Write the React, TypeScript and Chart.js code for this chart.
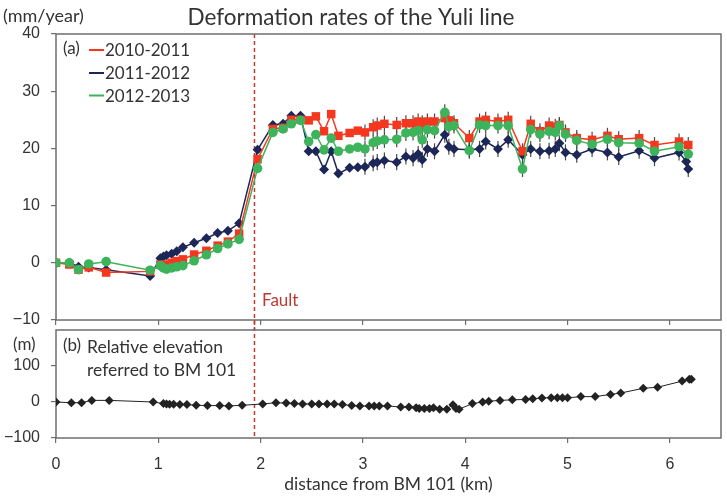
import React, { useEffect, useRef } from 'react';
import { Chart, registerables } from 'chart.js';

Chart.register(...registerables);

// Leveling benchmarks along the Yuli line (km from BM 101)
const STATION_KM = [
  0, 0.13, 0.22, 0.32, 0.49, 0.92, 1.02, 1.05, 1.08, 1.13, 1.18, 1.24, 1.35, 1.47, 1.58, 1.68, 1.79,
  1.97, 2.12, 2.22, 2.3, 2.39, 2.47, 2.54, 2.62, 2.69, 2.76, 2.87, 2.95, 3.02, 3.1, 3.14, 3.21, 3.33,
  3.42, 3.49, 3.54, 3.58, 3.63, 3.7, 3.8, 3.84, 3.89, 4.04, 4.14, 4.2, 4.32, 4.42, 4.56, 4.64, 4.73,
  4.82, 4.88, 4.92, 4.98, 5.09, 5.24, 5.39, 5.5, 5.7, 5.85, 6.09, 6.16, 6.18,
];

// Vertical deformation rates (mm/year)
const RATE_2010_2011 = [
  0, -0.3, -1.2, -0.8, -1.7, -1.5, -0.3, -0.6, -0.3, 0.0, 0.3, 0.6, 1.45, 2.1, 3.0, 3.7, 5.1,
  18.1, 23.4, 23.6, 25.0, 25.0, 24.9, 25.6, 23.0, 26.0, 22.2, 22.7, 23.1, 22.8, 23.7, 24.0, 24.3, 24.1,
  24.4, 24.4, 24.7, 24.4, 24.7, 24.7, 25.3, 24.9, 24.4, 21.8, 24.7, 25.0, 24.7, 25.0, 19.5, 24.3, 23.0,
  24.0, 23.8, 24.1, 22.8, 21.8, 21.5, 22.2, 21.6, 21.8, 20.6, 21.2, null, 20.6,
];
const RATE_2011_2012 = [
  0, 0, -0.7, -0.8, -1.2, -2.3, 0.8, 1.1, 1.3, 1.6, 2.0, 2.7, 3.5, 4.3, 5.2, 5.6, 6.9,
  19.75, 24.1, 24.3, 25.7, 25.7, 19.5, 19.5, 16.3, 19.5, 15.6, 16.6, 16.7, 16.8, 17.4, 17.6, 17.9, 17.6,
  18.6, 18.3, 19.0, 18.0, 19.9, 19.5, 22.4, 20.3, 19.9, 19.75, 19.9, 21.2, 19.9, 21.5, 18.9, 19.9, 19.5,
  19.6, 19.9, 20.9, 19.3, 18.9, 19.9, 19.3, 18.5, 19.6, 18.3, 19.3, 17.7, 16.4,
];
const RATE_2012_2013 = [
  0, 0, -1.2, -0.2, 0.2, -1.3, -0.5, -0.9, -1.1, -0.9, -0.7, -0.5, 0.35, 1.4, 2.5, 3.3, 4.1,
  16.5, 22.8, 23.4, 24.3, 24.9, 21.2, 22.4, 19.75, 21.8, 19.5, 19.9, 20.2, 19.9, 21.0, 21.3, 21.5, 21.6,
  22.7, 22.8, 23.1, 21.5, 23.3, 23.1, 26.3, 23.8, 24.0, 19.6, 24.1, 24.0, 24.0, 24.0, 16.4, 23.3, 22.5,
  23.0, 22.8, 24.0, 22.5, 21.4, 20.7, 21.6, 21.0, 20.9, 19.5, 20.3, null, 19.0,
];
const SERIES_LABELS = ['2010-2011', '2011-2012', '2012-2013'];

// Relative elevation referred to BM 101 (m)
const LEVEL_KM = [
  0, 0.15, 0.25, 0.35, 0.52, 0.95, 1.05, 1.08, 1.11, 1.15, 1.21, 1.28, 1.37, 1.48, 1.6, 1.69, 1.82,
  2.02, 2.15, 2.25, 2.33, 2.41, 2.5, 2.57, 2.65, 2.72, 2.8, 2.89, 2.97, 3.06, 3.11, 3.16, 3.24, 3.37,
  3.45, 3.52, 3.55, 3.6, 3.65, 3.69, 3.75, 3.82, 3.88, 3.91, 3.94, 4.07, 4.17, 4.23, 4.34, 4.46, 4.59,
  4.66, 4.75, 4.84, 4.9, 4.95, 5.0, 5.13, 5.27, 5.42, 5.52, 5.74, 5.88, 6.12, 6.19, 6.21,
];
const ELEVATION_M = [
  0, -2, -2, 4.5, 4.5, 0, -4.5, -5.5, -6, -6, -7, -7, -9, -10, -10, -11, -9,
  -5.5, -2, -3, -4, -5.5, -5.5, -5.5, -5.5, -5.5, -7, -10, -11, -11, -11, -11, -11, -14,
  -14, -16, -18, -18, -18, -16, -20, -20, -7.5, -18, -20, -4.5, 0, 2, 4.5, 6, 7,
  9, 11, 12, 11.5, 11.5, 11.5, 15, 15, 21, 25, 38, 41, 58, 63.5, 63.5,
];

// Axis ranges and annotations
const KM_MIN = 0;
const KM_MAX = 6.5;
const RATE_MIN = -10;
const RATE_MAX = 40;
const RATE_STEP = 10;
const ELEV_MIN = -100;
const ELEV_MAX = 200;
const ELEV_STEP = 100;
const ELEV_LAST_TICK = 100;
const FAULT_KM = 1.94;
const ERROR_FROM_KM = 3.0;
const ERROR_MM = 1.4;

const TITLE = 'Deformation rates of the Yuli line';
const X_TITLE = 'distance from BM 101 (km)';

// Styling
const TEXT_FONT = 'Lato, "Open Sans", sans-serif';
const NUM_FONT = '"Liberation Sans", Arial, sans-serif';
const TEXT_COLOR = '#333333';
const FRAME_COLOR = '#6e6e6e';
const FAULT_COLOR = '#c0392f';
const SERIES_COLORS = ['#f5371f', '#1c2657', '#3db35b'];
const SERIES_STYLES: any[] = ['rect', 'rectRot', 'circle'];
const SERIES_RADII = [6, 5, 4.8];
const SERIES_ORDER = [1, 2, 0];
const ELEV_COLOR = '#222222';
const AXIS_W = 56;

const minusFmt = (v: any) => String(v).replace('-', '\u2212');

// Fixed axis box sizes; label overhang must not push the plot area around
const fixSize = (w: number | null, h: number | null) => (s: any) => {
  if (w != null) s.width = w;
  if (h != null) s.height = h;
  s.paddingTop = 0;
  s.paddingBottom = 0;
  s.paddingLeft = 0;
  s.paddingRight = 0;
};

function frameAndFault(chart: any, faultTop: number, faultBottom: number) {
  const { ctx, chartArea } = chart;
  const { left, top, right, bottom } = chartArea;
  ctx.save();
  const fx = chart.scales.x.getPixelForValue(FAULT_KM);
  ctx.setLineDash([4, 3]);
  ctx.strokeStyle = FAULT_COLOR;
  ctx.lineWidth = 1.5;
  ctx.beginPath();
  ctx.moveTo(fx, faultTop);
  ctx.lineTo(fx, faultBottom);
  ctx.stroke();
  ctx.setLineDash([]);
  ctx.strokeStyle = FRAME_COLOR;
  ctx.lineWidth = 1.5;
  ctx.strokeRect(left, top, right - left, bottom - top);
  ctx.restore();
}

const rateDecor = {
  id: 'rateDecor',
  beforeDatasetsDraw(chart: any) {
    const { ctx } = chart;
    const ys = chart.scales.y;
    const xs = chart.scales.x;
    frameAndFault(chart, chart.chartArea.top, chart.height);
    ctx.save();
    ctx.strokeStyle = '#4a4a4a';
    ctx.lineWidth = 1.2;
    chart.data.datasets.forEach((ds: any) => {
      ds.data.forEach((p: any) => {
        if (p.y == null || p.x < ERROR_FROM_KM) return;
        const px = xs.getPixelForValue(p.x);
        ctx.beginPath();
        ctx.moveTo(px, ys.getPixelForValue(p.y + ERROR_MM));
        ctx.lineTo(px, ys.getPixelForValue(p.y - ERROR_MM));
        ctx.stroke();
      });
    });
    ctx.restore();
  },
  afterDraw(chart: any) {
    const { ctx } = chart;
    ctx.save();
    ctx.textBaseline = 'middle';
    ctx.fillStyle = TEXT_COLOR;
    ctx.font = `22.5px ${TEXT_FONT}`;
    ctx.textAlign = 'center';
    ctx.fillText(TITLE, 351, 18);
    ctx.textAlign = 'left';
    ctx.font = `18px ${TEXT_FONT}`;
    ctx.fillText('(mm/year)', 3, 16);
    ctx.font = `17px ${TEXT_FONT}`;
    ctx.fillText('(a)', 63, 49);
    const rowY = [50, 73, 95.5];
    SERIES_LABELS.forEach((lab, i) => {
      ctx.strokeStyle = SERIES_COLORS[i];
      ctx.lineWidth = 2;
      ctx.beginPath();
      ctx.moveTo(89, rowY[i]);
      ctx.lineTo(104, rowY[i]);
      ctx.stroke();
      ctx.fillStyle = TEXT_COLOR;
      ctx.fillText(lab, 105, rowY[i] + 1);
    });
    ctx.fillStyle = FAULT_COLOR;
    ctx.fillText('Fault', 262, 301);
    ctx.restore();
  },
};

const elevDecor = {
  id: 'elevDecor',
  beforeDatasetsDraw(chart: any) {
    frameAndFault(chart, 0, chart.chartArea.bottom);
  },
  afterDraw(chart: any) {
    const { ctx } = chart;
    ctx.save();
    ctx.textBaseline = 'middle';
    ctx.textAlign = 'left';
    ctx.fillStyle = TEXT_COLOR;
    ctx.font = `17px ${TEXT_FONT}`;
    ctx.fillText('(m)', 13, 25);
    ctx.fillText('(b)', 63, 26);
    ctx.font = `17.5px ${TEXT_FONT}`;
    ctx.fillText('Relative elevation', 87, 27);
    ctx.fillText('referred to BM 101', 87, 50);
    ctx.restore();
  },
};

const pts = (xs: number[], ys: (number | null)[]) => xs.map((x, i) => ({ x, y: ys[i] }));

export default function App() {
  const topRef = useRef<HTMLCanvasElement>(null);
  const botRef = useRef<HTMLCanvasElement>(null);

  useEffect(() => {
    const rateSeries = [RATE_2010_2011, RATE_2011_2012, RATE_2012_2013];
    const top = new Chart(topRef.current!, {
      type: 'line',
      data: {
        datasets: rateSeries.map((ys, i) => ({
          label: SERIES_LABELS[i],
          data: pts(STATION_KM, ys),
          borderColor: SERIES_COLORS[i],
          backgroundColor: SERIES_COLORS[i],
          borderWidth: 1.5,
          pointStyle: SERIES_STYLES[i],
          pointRadius: SERIES_RADII[i],
          pointBorderWidth: 0,
          spanGaps: true,
          tension: 0,
          order: SERIES_ORDER[i],
        })),
      },
      options: {
        animation: false,
        responsive: false,
        devicePixelRatio: 1,
        layout: { padding: { top: 34, right: 6, left: 0, bottom: 0 } },
        plugins: { legend: { display: false }, tooltip: { enabled: false }, title: { display: false } },
        scales: {
          x: {
            type: 'linear',
            min: KM_MIN,
            max: KM_MAX,
            border: { display: false },
            grid: { drawOnChartArea: false, drawTicks: true, tickLength: 5, color: FRAME_COLOR, lineWidth: 1.2 },
            ticks: { stepSize: 1, includeBounds: false, display: false },
            afterFit: fixSize(null, 10),
          },
          y: {
            min: RATE_MIN,
            max: RATE_MAX,
            border: { display: false },
            grid: { drawOnChartArea: false, drawTicks: true, tickLength: 5, color: FRAME_COLOR, lineWidth: 1.2 },
            ticks: { stepSize: RATE_STEP, color: TEXT_COLOR, font: { family: NUM_FONT, size: 16 }, padding: 11, callback: minusFmt },
            afterFit: fixSize(AXIS_W, null),
          },
        },
      } as any,
      plugins: [rateDecor],
    });

    const bot = new Chart(botRef.current!, {
      type: 'line',
      data: {
        datasets: [
          {
            label: 'elevation',
            data: pts(LEVEL_KM, ELEVATION_M),
            borderColor: ELEV_COLOR,
            backgroundColor: ELEV_COLOR,
            borderWidth: 1,
            pointStyle: 'rectRot',
            pointRadius: 4.5,
            pointBorderWidth: 0,
            tension: 0,
          },
        ],
      },
      options: {
        animation: false,
        responsive: false,
        devicePixelRatio: 1,
        layout: { padding: { top: 10, right: 6, left: 0, bottom: 0 } },
        plugins: { legend: { display: false }, tooltip: { enabled: false } },
        scales: {
          x: {
            type: 'linear',
            min: KM_MIN,
            max: KM_MAX,
            border: { display: false },
            grid: { drawOnChartArea: false, drawTicks: true, tickLength: 5, color: FRAME_COLOR, lineWidth: 1.2 },
            ticks: { stepSize: 1, includeBounds: false, color: TEXT_COLOR, font: { family: NUM_FONT, size: 16 }, padding: 12 },
            title: { display: true, text: X_TITLE, color: TEXT_COLOR, font: { family: TEXT_FONT, size: 17.5 }, padding: { top: 2, bottom: 3 } },
            afterFit: fixSize(null, 60),
          },
          y: {
            min: ELEV_MIN,
            max: ELEV_MAX,
            border: { display: false },
            grid: { drawOnChartArea: false, drawTicks: true, tickLength: 5, color: FRAME_COLOR, lineWidth: 1.2 },
            ticks: { stepSize: ELEV_STEP, color: TEXT_COLOR, font: { family: NUM_FONT, size: 16 }, padding: 11, callback: minusFmt },
            afterBuildTicks: (s: any) => { s.ticks = s.ticks.filter((t: any) => t.value <= ELEV_LAST_TICK); },
            afterFit: fixSize(AXIS_W, null),
          },
        },
      } as any,
      plugins: [elevDecor],
    });

    return () => {
      top.destroy();
      bot.destroy();
    };
  }, []);

  return (
    <div style={{ position: 'absolute', left: 0, top: 0, width: 727, height: 498, background: '#ffffff' }}>
      <canvas ref={topRef} width={727} height={330} style={{ position: 'absolute', left: 0, top: 0 }} />
      <canvas ref={botRef} width={727} height={178} style={{ position: 'absolute', left: 0, top: 320 }} />
    </div>
  );
}
